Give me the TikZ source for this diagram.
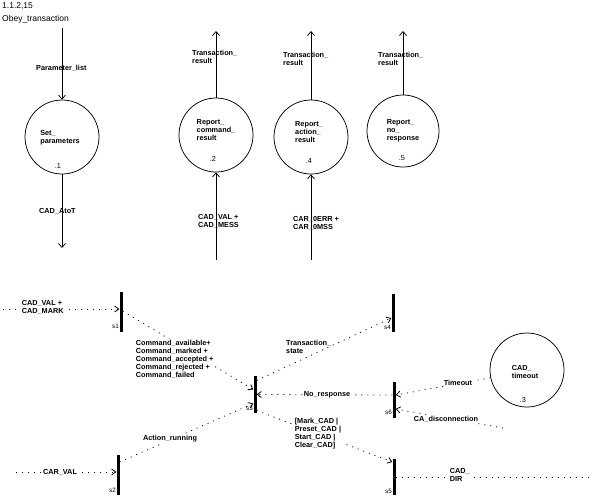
\documentclass[tikz,border=0pt]{standalone}
\usepackage{fontspec}
\setmainfont{Liberation Sans}
\usetikzlibrary{arrows.meta}
\begin{document}
\begin{tikzpicture}[x=1pt,y=-1pt,
  proc/.style={draw, circle, minimum size=74pt, inner sep=0, line width=0.75pt},
  lbl/.style={font=\fontsize{7.3}{8}\selectfont\bfseries, align=left, inner sep=0},
  num/.style={font=\fontsize{7.3}{8}\selectfont, inner sep=0},
  flow/.style={line width=0.75pt, -{Straight Barb[length=4pt,width=7pt]}},
  ev/.style={line width=0.8pt, dash pattern=on 1pt off 5pt},
  evarr/.style={ev, -{Straight Barb[length=4pt,width=6pt]}},
  bar/.style={fill=black, minimum width=3pt, inner sep=0, draw=none},
  slbl/.style={font=\fontsize{6.3}{7}\selectfont, inner sep=0, anchor=east},
  wl/.style={lbl, fill=white, inner sep=0.6pt},
  hdr/.style={font=\fontsize{8.5}{10}\selectfont, anchor=west, inner sep=0},
]
\useasboundingbox (0,0) rectangle (589,499);

% header
\node[hdr] (hnum) at (2,6) {1.1.2,15};
\node[hdr] (htitle) at (2,19) {Obey\_transaction};

% processes
\node[proc] (p1) at (62,137) {};
\node[proc] (p2) at (216,135) {};
\node[proc] (p4) at (311,137) {};
\node[proc, minimum size=72pt] (p5) at (403,131) {};
\node[proc] (p3) at (527,370) {};

\node[lbl] (t1) at (60,138) {Set\_\\parameters};
\node[lbl] (t2) at (216,130) {Report\_\\command\_\\result};
\node[lbl] (t4) at (309,132) {Report\_\\action\_\\result};
\node[lbl] (t5) at (403,131) {Report\_\\no\_\\response};
\node[lbl] (t3) at (525,372) {CAD\_\\timeout};

\node[num] (n1) at (58,166) {.1};
\node[num] (n2) at (213,159) {.2};
\node[num] (n4) at (309,161) {.4};
\node[num] (n5) at (402,158) {.5};
\node[num] (n3) at (523,400) {.3};

% data flows
\coordinate (in1) at (62,28);
\coordinate (out1) at (62,248);
\coordinate (out2) at (216,31);
\coordinate (out4) at (311,31);
\coordinate (out5) at (403,31);
\coordinate (in2) at (216,260);
\coordinate (in4) at (311,260);

\draw[flow] (in1) -- (p1.north);
\draw[flow] (p1.south) -- (out1);
\draw[flow] (p2.north) -- (out2);
\draw[flow] (p4.north) -- (out4);
\draw[flow] (p5.north) -- (out5);
\draw[flow] (in2) -- (p2.south);
\draw[flow] (in4) -- (p4.south);

\node[lbl, anchor=west] (l1) at (36,68) {Parameter\_list};
\node[lbl, anchor=west] (l2) at (39,211) {CAD\_AtoT};
\node[lbl, anchor=west] (l3) at (192,57) {Transaction\_\\result};
\node[lbl, anchor=west] (l4) at (283,59) {Transaction\_\\result};
\node[lbl, anchor=west] (l5) at (378,59) {Transaction\_\\result};
\node[lbl, anchor=west] (l6) at (198,221) {CAD\_VAL +\\CAD\_MESS};
\node[lbl, anchor=west] (l7) at (293,223) {CAR\_0ERR +\\CAR\_0MSS};

% state bars
\node[bar, minimum height=40pt] (s1) at (121,312) {};
\node[bar, minimum height=40pt] (s2) at (118,475) {};
\node[bar, minimum height=37pt] (s3) at (255,394.5) {};
\node[bar, minimum height=38pt] (s4) at (393,313) {};
\node[bar, minimum height=36pt] (s5) at (394,477) {};
\node[bar, minimum height=36pt] (s6) at (394,400) {};

\node[slbl] (ls1) at (119,326) {s1};
\node[slbl] (ls2) at (116,490) {s2};
\node[slbl] (ls3) at (253,408) {s3};
\node[slbl] (ls4) at (391,327) {s4};
\node[slbl] (ls5) at (392,491) {s5};
\node[slbl] (ls6) at (392,412) {s6};

% event connectors
\coordinate (e1) at (3,309);
\coordinate (e2) at (16,472);
\coordinate (edisc) at (503,428);
\coordinate (edir) at (589,477);

\draw[evarr] (e1) -- (s1.west |- e1);
\draw[evarr] (e2) -- (s2.west |- e2);
\draw[evarr] ([yshift=1pt]s1.east) -- ([yshift=5pt]s3.west);
\draw[evarr] ([yshift=13pt]s2.east) -- ([yshift=-9pt]s3.west);
\draw[evarr] ([yshift=14pt]s3.east) -- ([yshift=-5pt]s4.west);
\draw[evarr] ([yshift=5pt]s6.west) -- (s3.east);
\draw[evarr] ([yshift=-16pt]s3.east) -- ([yshift=15pt]s5.west);
\draw[evarr] (p3.192) -- ([yshift=5pt]s6.east);
\draw[evarr] (edisc) -- ([yshift=-9pt]s6.east);
\draw[ev] (s5.east) -- (edir);

\node[wl, anchor=west] (m1) at (21,307.5) {CAD\_VAL +\\CAD\_MARK};
\node[wl] (m2) at (60,472) {CAR\_VAL};
\node[wl, anchor=west] (m3) at (135,359) {Command\_available+\\Command\_marked +\\Command\_accepted +\\Command\_rejected +\\Command\_failed};
\node[wl] (m4) at (170,439) {Action\_running};
\node[lbl, anchor=west] (m5) at (286,347) {Transaction\_\\state};
\node[wl] (m6) at (327,395) {No\_response};
\node[wl, anchor=west] (m7) at (294,433.5) {[Mark\_CAD |\\Preset\_CAD |\\Start\_CAD |\\Clear\_CAD]};
\node[wl] (m8) at (458,383) {Timeout};
\node[wl] (m9) at (446,419) {CA\_disconnection};
\node[wl, anchor=west] (m10) at (449,475) {CAD\_\\DIR};
\end{tikzpicture}
\end{document}
